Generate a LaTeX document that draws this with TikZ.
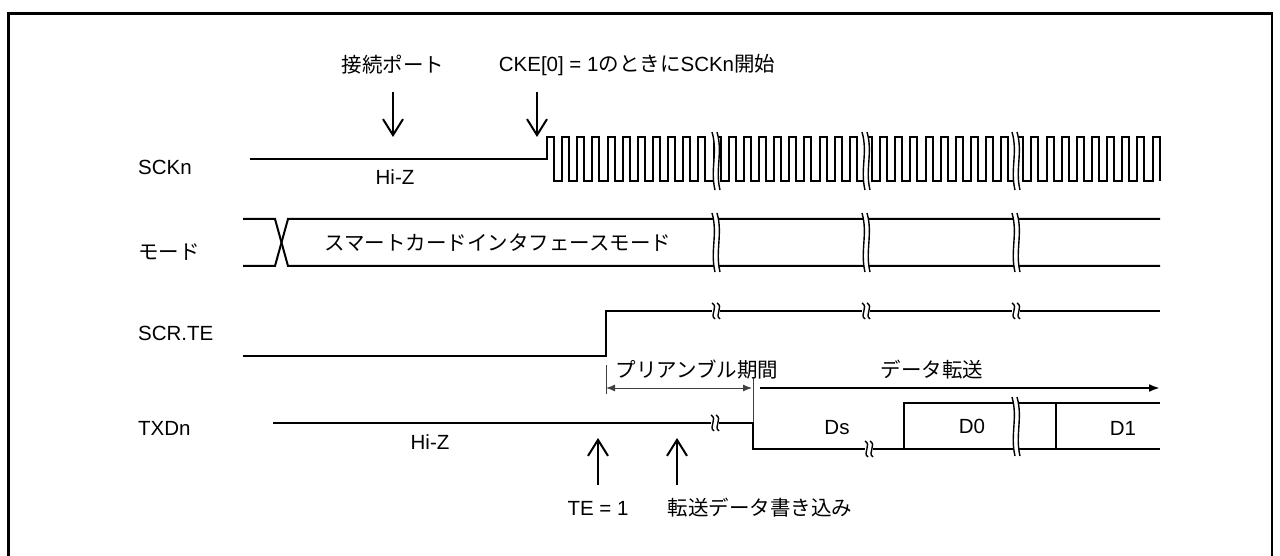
\documentclass[tikz,border=0pt]{standalone}
\usepackage{fontspec}
\setmainfont{Liberation Sans}
\newfontfamily\jpfont{Noto Sans CJK JP}
\usetikzlibrary{arrows.meta}
\newcommand{\TallBreak}[3]{%
  \fill[white] (#1-2,#2) .. controls (#1+4,#2+0.35*#3-0.35*#2) and (#1-4,#2+0.65*#3-0.65*#2) .. (#1+1,#3)
     -- (#1+6,#3) .. controls (#1+1,#2+0.65*#3-0.65*#2) and (#1+9,#2+0.35*#3-0.35*#2) .. (#1+3,#2) -- cycle;
  \draw[brk] (#1-2,#2) .. controls (#1+4,#2+0.35*#3-0.35*#2) and (#1-4,#2+0.65*#3-0.65*#2) .. (#1+1,#3);
  \draw[brk] (#1+3,#2) .. controls (#1+9,#2+0.35*#3-0.35*#2) and (#1+1,#2+0.65*#3-0.65*#2) .. (#1+6,#3);
}
\newcommand{\SmallBreak}[2]{%
  \fill[white] (#1-1,#2-2.5) rectangle (#1+7,#2+2.5);
  \draw[brk] (#1-1,#2-8) .. controls (#1+6,#2-4) and (#1-4,#2+4) .. (#1+2,#2+8);
  \draw[brk] (#1+4,#2-8) .. controls (#1+11,#2-4) and (#1+1,#2+4) .. (#1+7,#2+8);
}
\begin{document}
\begin{tikzpicture}[x=1pt,y=-1pt,
  sig/.style={line width=2pt},
  brk/.style={line width=1.4pt},
  lbl/.style={inner sep=0pt, font=\fontsize{20.5}{24}\selectfont},
  barb/.style={line width=2pt,-{Straight Barb[length=16pt,width=20pt]}},
  thinl/.style={line width=1pt, black!75}]
\useasboundingbox (0,0) rectangle (1280,556);
% frame
\draw[line width=2.6pt] (8.7,560) -- (8.7,13.8) -- (1272,13.8) -- (1272,560);

% signal labels
\node[lbl,anchor=west] (lSCK) at (138,167) {SCKn};
\node[lbl,anchor=west] (lMode) at (138,252) {\jpfont モード};
\node[lbl,anchor=west] (lTE) at (138,333) {SCR.TE};
\node[lbl,anchor=west] (lTXD) at (138,428) {TXDn};

% top annotations
\node[lbl] (tPort) at (393,65) {\jpfont 接続ポート};
\node[lbl] (tCKE) at (637,65) {CKE[0] = 1{\jpfont のときに}SCKn{\jpfont 開始}};
\coordinate (pPortS) at (393,92);
\coordinate (pPortE) at (393,137);
\coordinate (pCKES) at (537,92);
\coordinate (pCKEE) at (537,137);
\draw[barb] (pPortS) -- (pPortE);
\draw[barb] (pCKES) -- (pCKEE);

% SCKn
\draw[sig] (250,159) -- (547,159) -- (547,137)
  \foreach \i in {1,...,40}{ -- ++(7,0) -- ++(0,44) -- ++(8.14,0) -- ++(0,-44)}
  -- ++(7,0) -- ++(0,44);
\node[lbl] (hiz1) at (395,177) {Hi-Z};

% mode
\draw[sig] (243,219) -- (275,219) -- (288,266) -- (1160,266);
\draw[sig] (243,266) -- (275,266) -- (288,219) -- (1160,219);
\node[lbl] (modeTxt) at (498,243) {\jpfont スマートカードインタフェースモード};

% SCR.TE
\draw[sig] (243,356) -- (606,356) -- (606,311) -- (1160,311);

% preamble / data transfer
\draw[thinl] (606,365) -- (606,394);
\coordinate (preS) at (606,388);
\coordinate (preE) at (752,388);
\draw[thinl,{Latex[length=9pt,width=7pt]}-{Latex[length=9pt,width=7pt]}] (preS) -- (preE);
\draw[thinl] (753,378) -- (753,423);
\node[lbl] (preTxt) at (697,370) {\jpfont プリアンブル期間};
\coordinate (datS) at (760,388);
\coordinate (datE) at (1160,388);
\draw[line width=2pt,-{Latex[length=11pt,width=8pt]}] (datS) -- (datE);
\node[lbl] (datTxt) at (932,370) {\jpfont データ転送};

% TXDn
\draw[sig] (273,423) -- (753,423) -- (753,449) -- (1160,449);
\draw[sig] (904,449) -- (904,403) -- (1160,403);
\draw[sig] (1056,403) -- (1056,449);
\node[lbl] (hiz2) at (430,442) {Hi-Z};
\node[lbl] (ds) at (837,428) {Ds};
\node[lbl] (d0) at (972,426) {D0};
\node[lbl] (d1) at (1123,428) {D1};

% bottom annotations
\coordinate (teS) at (598,485);
\coordinate (teE) at (598,438);
\coordinate (wrS) at (677,485);
\coordinate (wrE) at (677,438);
\draw[barb] (teS) -- (teE);
\draw[barb] (wrS) -- (wrE);
\node[lbl] (teTxt) at (598,508) {TE = 1};
\node[lbl] (wrTxt) at (760,508) {\jpfont 転送データ書き込み};

% breaks
\TallBreak{714}{132}{190}
\TallBreak{864}{132}{190}
\TallBreak{1014}{132}{190}
\TallBreak{714}{213}{272}
\TallBreak{864}{213}{272}
\TallBreak{1014}{213}{272}
\TallBreak{1014}{397}{456}
\SmallBreak{713}{311}
\SmallBreak{863}{311}
\SmallBreak{1013}{311}
\SmallBreak{712}{423}
\SmallBreak{866}{449}
\end{tikzpicture}
\end{document}
